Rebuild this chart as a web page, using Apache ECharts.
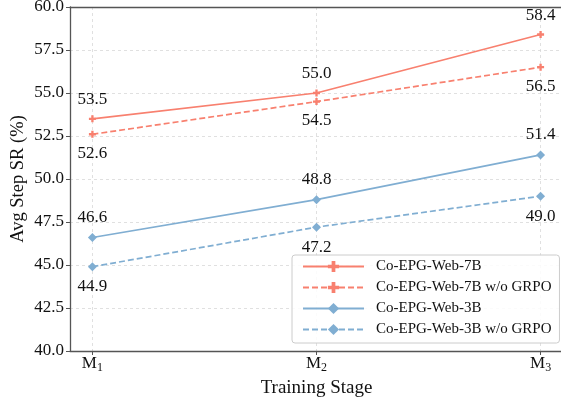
<!DOCTYPE html>
<html><head><meta charset="utf-8">
<script src="https://cdn.jsdelivr.net/npm/echarts@6/dist/echarts.min.js"></script>
<style>html,body{margin:0;padding:0;background:#fff}#c{width:561px;height:397px}</style>
</head><body><div id="c"></div>
<script>
var stages = ['1', '2', '3'];
var stageX = [0, 1, 2];
var web7B = [53.5, 55.0, 58.4];
var web7BnoGRPO = [52.6, 54.5, 56.5];
var web3B = [46.6, 48.8, 51.4];
var web3BnoGRPO = [44.9, 47.2, 49.0];
var seriesNames = ['Co-EPG-Web-7B', 'Co-EPG-Web-7B w/o GRPO', 'Co-EPG-Web-3B', 'Co-EPG-Web-3B w/o GRPO'];

var RED = '#F8806F', BLUE = '#80AED2';
var FONT = 'Liberation Serif';
var plus = 'path://M4,0H8V4H12V8H8V12H4V8H0V4H4Z';

function pts(arr){ return arr.map(function(v,i){ return [stageX[i], v]; }); }
function mk(name, data, color, dashed, symbol, size, pos){
  return {
    name: name, type: 'line', data: pts(data),
    symbol: symbol, symbolSize: size,
    itemStyle: {color: color},
    lineStyle: {color: color, width: 1.7, type: dashed ? [6, 3] : 'solid'},
    label: {show: true, position: pos, distance: 7, fontFamily: FONT, fontSize: 17, color: '#111',
      formatter: function(p){ return p.value[1].toFixed(1); }},
    z: 3
  };
}
var gridLine = {show: true, lineStyle: {color: '#d8d8d8', type: [3, 3], width: 0.8}};
var chart = echarts.init(document.getElementById('c'), null, {renderer: 'canvas'});
chart.setOption({
  animation: false,
  grid: {left: 70, top: 7, width: 493, height: 344, show: false, containLabel: false, outerBoundsMode: 'none'},
  xAxis: [{
    type: 'value', min: -0.1, max: 2.1,
    name: 'Training Stage', nameLocation: 'middle', nameGap: 21,
    nameTextStyle: {fontFamily: FONT, fontSize: 19, color: '#111'},
    axisLine: {show: true, onZero: false, lineStyle: {color: '#555', width: 1.3}},
    axisTick: {show: true, customValues: stageX, length: 4, lineStyle: {color: '#555'}},
    axisLabel: {customValues: stageX, margin: 3, fontFamily: FONT, color: '#111',
      formatter: function(v){ return '{m|M}{s|' + stages[Math.round(v)] + '}'; },
      rich: {m: {fontFamily: FONT, fontSize: 17, color: '#111'}, s: {fontFamily: FONT, fontSize: 12, color: '#111', padding: [8, 0, 0, 0]}}},
    splitLine: gridLine
  }, {
    type: 'value', min: -0.1, max: 2.1, position: 'top',
    axisLine: {show: true, onZero: false, lineStyle: {color: '#555', width: 1.3}},
    axisTick: {show: false}, axisLabel: {show: false}, splitLine: {show: false}
  }],
  yAxis: {
    type: 'value', min: 40, max: 60, interval: 2.5,
    name: 'Avg Step SR (%)', nameLocation: 'middle', nameGap: 42, nameMoveOverlap: false,
    nameTextStyle: {fontFamily: FONT, fontSize: 18.5, color: '#111'},
    axisLine: {show: true, onZero: false, lineStyle: {color: '#555', width: 1.3}},
    axisTick: {show: true, length: 4, lineStyle: {color: '#555'}},
    axisLabel: {margin: 6, fontFamily: FONT, fontSize: 17, color: '#111', formatter: function(v){ return v.toFixed(1); }},
    splitLine: gridLine
  },
  legend: {
    left: 292, top: 255, orient: 'vertical',
    padding: [4, 8, 6, 10], itemGap: 6, itemWidth: 61, itemHeight: 14,
    backgroundColor: 'rgba(255,255,255,0.85)', borderColor: '#cccccc', borderWidth: 1, borderRadius: 3,
    textStyle: {fontFamily: FONT, fontSize: 15, color: '#111', lineHeight: 15, padding: [0, 0, 0, 7]},
    data: seriesNames
  },
  series: [
    mk(seriesNames[0], web7B, RED, false, plus, 7, 'top'),
    mk(seriesNames[1], web7BnoGRPO, RED, true, plus, 7, 'bottom'),
    mk(seriesNames[2], web3B, BLUE, false, 'diamond', 9, 'top'),
    mk(seriesNames[3], web3BnoGRPO, BLUE, true, 'diamond', 9, 'bottom')
  ]
});
</script></body></html>
